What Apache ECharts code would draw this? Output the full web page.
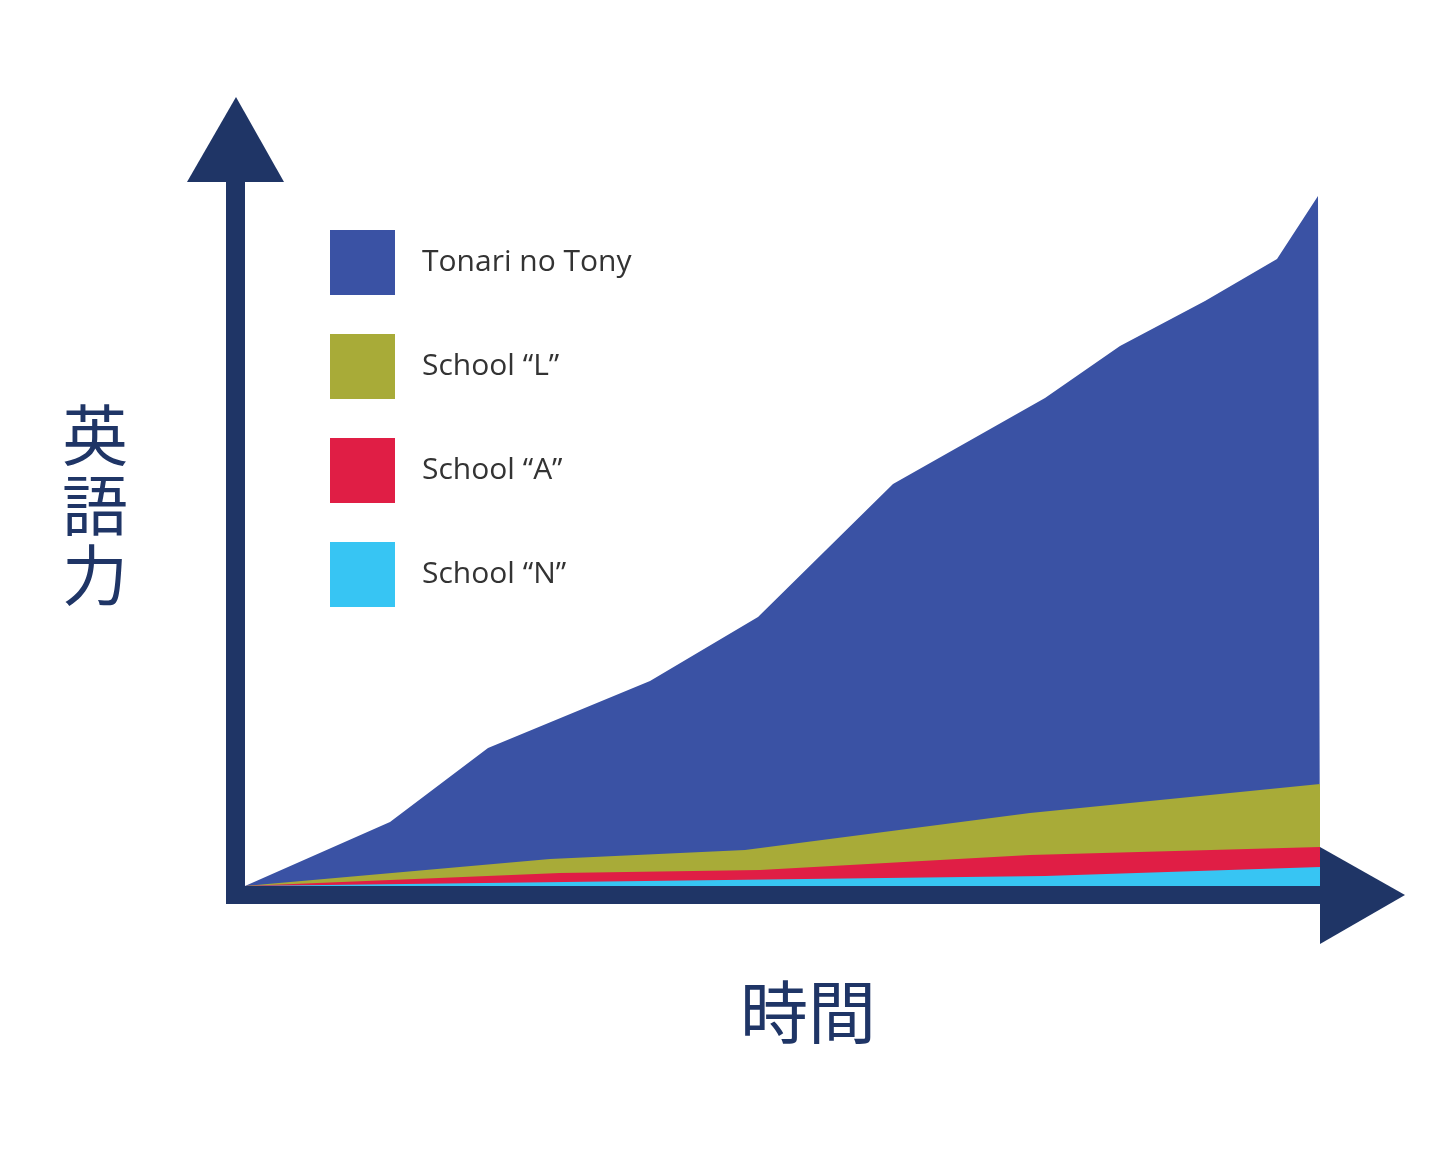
<!DOCTYPE html>
<html><head><meta charset="utf-8">
<script src="https://cdn.jsdelivr.net/npm/echarts@6/dist/echarts.min.js"></script>
<style>html,body{margin:0;background:#fff}#c{width:1454px;height:1160px}</style>
</head><body><div id="c"></div>
<script>
const seriesNames = ['Tonari no Tony', 'School “L”', 'School “A”', 'School “N”'];
const tony = [[0,0],[145,64],[243,138],[405,205],[513,269],[648,402],[800,488],[875,540],[960,585],[1032,627],[1073,690],[1075,690]];
const schoolL = [[0,0],[305,27],[500,36],[785,73],[1075,102]];
const schoolA = [[0,0],[315,13],[515,16],[785,31],[1075,39]];
const schoolN = [[0,0],[800,10],[1075,19]];
const colors = ['#3a52a4','#a8ab38','#e01e45','#37c5f3'];
const axisColor = '#1f3566';
const data = [tony, schoolL, schoolA, schoolN];
const chart = echarts.init(document.getElementById('c'));
chart.setOption({
  animation:false,
  grid:{left:245,right:134,top:196,bottom:274},
  xAxis:{type:'value',min:0,max:1075,show:false},
  yAxis:{type:'value',min:0,max:690,show:false},
  legend:{orient:'vertical',left:325,top:225,itemWidth:65,itemHeight:65,itemGap:39,
    icon:'rect',data:seriesNames,textStyle:{fontSize:30,color:'#333',fontFamily:'Open Sans',padding:[0,0,0,22]}},
  series:data.map((d,i)=>({name:seriesNames[i],type:'line',data:d,symbol:'none',
    lineStyle:{width:0},itemStyle:{color:colors[i]},areaStyle:{color:colors[i],opacity:1}})),
  graphic:[
    {type:'rect',shape:{x:226,y:175,width:19,height:729},style:{fill:axisColor},z:10},
    {type:'rect',shape:{x:226,y:886,width:1100,height:18},style:{fill:axisColor},z:10},
    {type:'polygon',shape:{points:[[236,97],[187,182],[284,182]]},style:{fill:axisColor},z:10},
    {type:'polygon',shape:{points:[[1405,895],[1320,847],[1320,944]]},style:{fill:axisColor},z:10},
    {type:'text',left:62,top:400,style:{text:'英\n語\n力',fontSize:66,lineHeight:70,fill:axisColor,fontFamily:'Noto Sans CJK JP'},z:10},
    {type:'text',left:740,top:978,style:{text:'時間',fontSize:68,fill:axisColor,fontFamily:'Noto Sans CJK JP'},z:10}
  ]
});
</script></body></html>
